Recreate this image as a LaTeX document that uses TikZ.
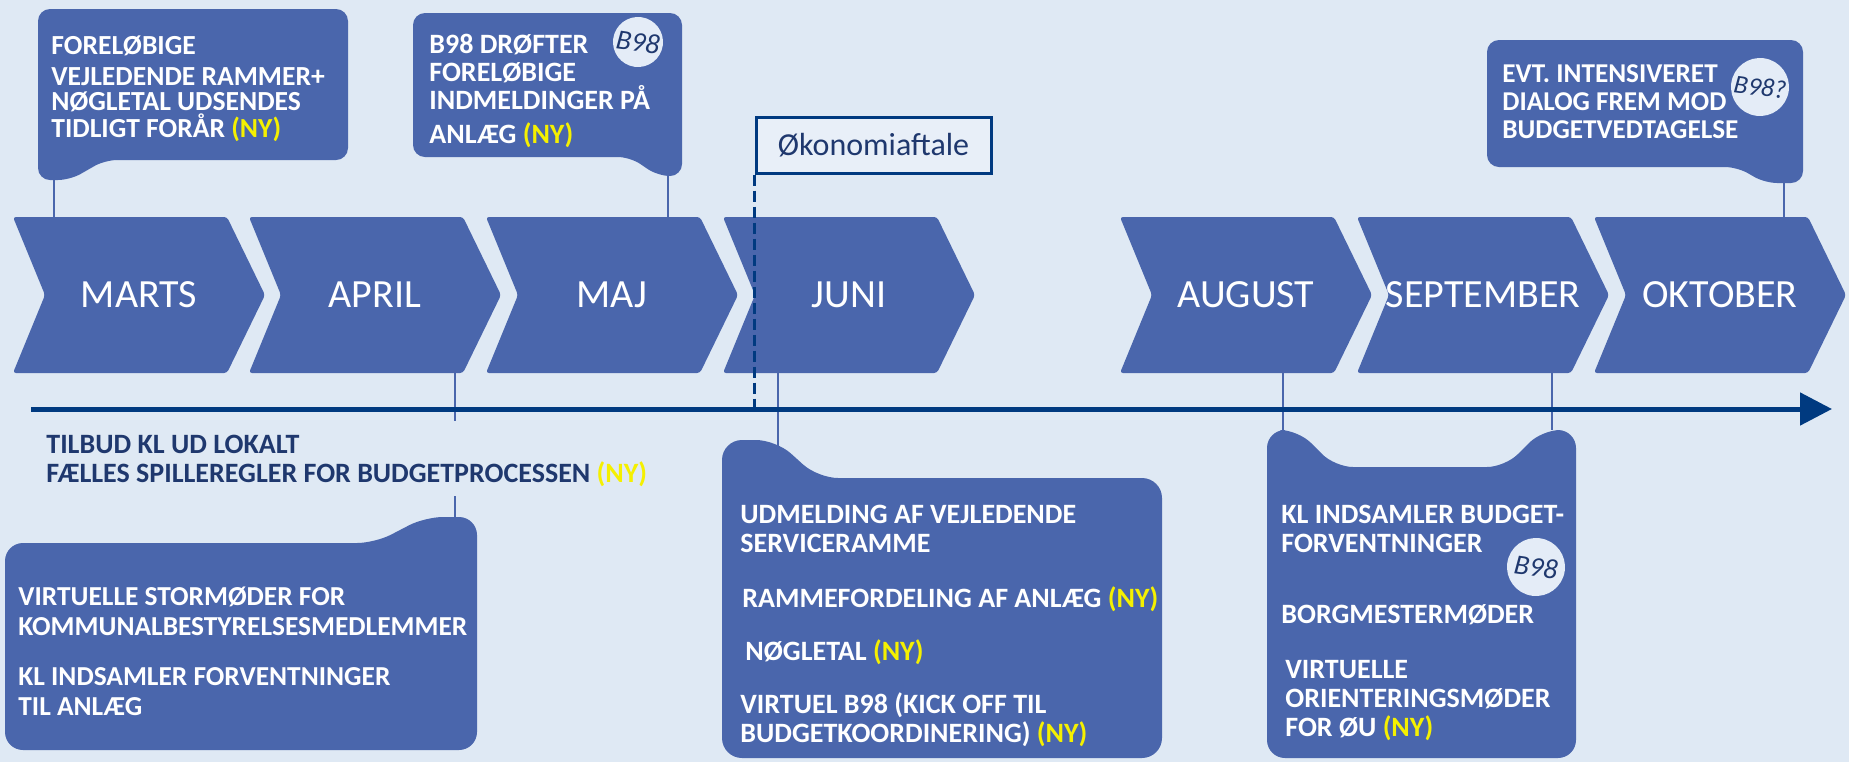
\documentclass[tikz,border=0pt]{standalone}
\usepackage{fontspec}
\setmainfont{Carlito}
\usepackage{xcolor}
\usepackage{tikz}
\usetikzlibrary{arrows.meta}
\definecolor{bgblue}{RGB}{223,233,244}
\definecolor{chevblue}{RGB}{74,102,172}
\definecolor{axisblue}{RGB}{0,58,128}
\definecolor{darkblue}{RGB}{31,56,110}
\definecolor{nyyellow}{RGB}{245,240,0}
\definecolor{circlefill}{RGB}{228,236,247}
\definecolor{okonfill}{RGB}{232,239,248}
\newcommand{\nymark}{\textcolor{nyyellow}{(NY)}}

\begin{document}
\begin{tikzpicture}[x=0.5pt,y=-0.5pt,
    chevron/.style={fill=chevblue, rounded corners=1.5pt},
    month/.style={text=white, font=\fontsize{20}{24}\selectfont, minimum height=78pt, inner sep=0pt},
    callout/.style={fill=chevblue, rounded corners=6pt},
    calltext/.style={text=white, font=\bfseries\fontsize{14}{#1}\selectfont, align=left, inner sep=0pt, anchor=north west},
    bcircle/.style={circle, fill=circlefill, minimum size=#1, inner sep=0pt, text=darkblue, font=\itshape\fontsize{14}{14}\selectfont, rotate=-8},
    link/.style={chevblue, line width=1pt}]
        \useasboundingbox (0,0) rectangle (1849,762);
        \fill[bgblue] (0,0) rectangle (1849,762);

        % callouts
        \fill[callout] (200,9) -- (348,9) -- (348,160) -- (105,160) -- (70,180) -- (38,180) -- (38,9) -- cycle;
        \fill[callout] (550,13) -- (682,13) -- (682,176) -- (658,176) -- (630,157) -- (413,157) -- (413,13) -- cycle;
        \fill[callout] (1650,40) -- (1803,40) -- (1803,183) -- (1765,183) -- (1737,167) -- (1487,167) -- (1487,40) -- cycle;
        \fill[callout, rounded corners=9pt] (200,543) -- (375,543) -- (425,517) -- (477,517) -- (477,750) -- (5,750) -- (5,543) -- cycle;
        \fill[callout, rounded corners=10pt] (1000,478) -- (1162,478) -- (1162,758) -- (722,758) -- (722,440) -- (776,440) -- (818,478) -- cycle;
        \fill[callout, rounded corners=9pt] (1400,467) -- (1505,467) -- (1542,430) -- (1576,430) -- (1576,758) -- (1267,758) -- (1267,430) -- (1298,430) -- (1335,467) -- cycle;
        \coordinate (tailA) at (54,180);
        \coordinate (tailB) at (668,176);
        \coordinate (tailC) at (1784,183);
        \coordinate (tailD) at (455,517);
        \coordinate (tailE) at (778,452);
        \coordinate (tailF1) at (1283,430);
        \coordinate (tailF2) at (1552,430);

        % months
        \foreach \x/\name/\lbl in {13/marts/MARTS, 249/april/APRIL, 486/maj/MAJ, 723/juni/JUNI, 1120/august/AUGUST, 1357/september/SEPTEMBER, 1594/oktober/OKTOBER} {
            \fill[chevron] (\x,217) -- ++(214,0) -- ++(38,78) -- ++(-38,78) -- ++(-214,0) -- ++(32,-78) -- cycle;
            \node[month] (\name) at (\x+126,295) {\lbl};
        }

        \draw[link] (tailA) -- (tailA |- marts.north);
        \draw[link] (tailB) -- (tailB |- maj.north);
        \draw[link] (tailC) -- (tailC |- oktober.north);
        \draw[link] (tailD |- april.south) -- (455,421);
        \draw[link] (455,496) -- (tailD);
        \draw[link] (tailE |- juni.south) -- (tailE);
        \draw[link] (tailF1 |- august.south) -- (tailF1);
        \draw[link] (tailF2 |- september.south) -- (tailF2);

        % timeline
        \coordinate (axstart) at (31,409);
        \coordinate (axend) at (1832,409);
        \draw[axisblue, line width=2.5pt, -{Triangle[length=16pt,width=16pt]}] (axstart) -- (axend);

        \node[draw=axisblue, line width=1.5pt, fill=okonfill, minimum width=117.5pt, minimum height=28pt, inner sep=0pt, text=darkblue, font=\fontsize{16}{18}\selectfont] (okon) at (873.5,145) {Økonomiaftale};
        \draw[axisblue, line width=1.5pt, dash pattern=on 5.5pt off 2.5pt] (okon.south west) -- (okon.south west |- 0,413);

        % texts
        \node[calltext=12.5pt, font=\bfseries\fontsize{13.8}{12.5}\selectfont] (txtA) at (51,35) {FORELØBIGE\\[3pt] VEJLEDENDE RAMMER+\\ NØGLETAL UDSENDES\\ TIDLIGT FORÅR \nymark};
        \node[calltext=14pt] (txtB) at (429,34) {B98 DRØFTER\\ FORELØBIGE\\ INDMELDINGER PÅ\\[3pt] ANLÆG \nymark};
        \node[calltext=14pt, font=\bfseries\fontsize{13.6}{14}\selectfont] (txtC) at (1502,64) {EVT. INTENSIVERET\\ DIALOG FREM MOD\\ BUDGETVEDTAGELSE};
        \node[calltext=14.5pt, text=darkblue] (tilbud) at (46,435) {TILBUD KL UD LOKALT\\ FÆLLES SPILLEREGLER FOR BUDGETPROCESSEN \nymark};
        \node[calltext=15pt, font=\bfseries\fontsize{13.7}{15}\selectfont] (txtD) at (18,587) {VIRTUELLE STORMØDER FOR\\ KOMMUNALBESTYRELSESMEDLEMMER\\[10pt] KL INDSAMLER FORVENTNINGER\\ TIL ANLÆG};
        \node[calltext=14.5pt] (txtE) at (740,505) {UDMELDING AF VEJLEDENDE\\ SERVICERAMME\\[13pt] \hspace*{1pt}RAMMEFORDELING AF ANLÆG \nymark\\[12pt] \hspace*{2.5pt}NØGLETAL \nymark\\[12pt] VIRTUEL B98 (KICK OFF TIL\\ BUDGETKOORDINERING) \nymark};
        \node[calltext=14.5pt] (txtF) at (1281,505) {KL INDSAMLER BUDGET-\\ FORVENTNINGER\\[21pt] BORGMESTERMØDER\\[13pt] \hspace*{2pt}VIRTUELLE\\ \hspace*{2pt}ORIENTERINGSMØDER\\ \hspace*{2pt}FOR ØU \nymark};

        \node[bcircle=25pt] (b98B) at (638,42) {B98};
        \node[bcircle=29pt, font=\itshape\fontsize{13}{13}\selectfont] (b98C) at (1760,87) {B98?};
        \node[bcircle=29pt] (b98F) at (1536,567) {B98};
\end{tikzpicture}
\end{document}
